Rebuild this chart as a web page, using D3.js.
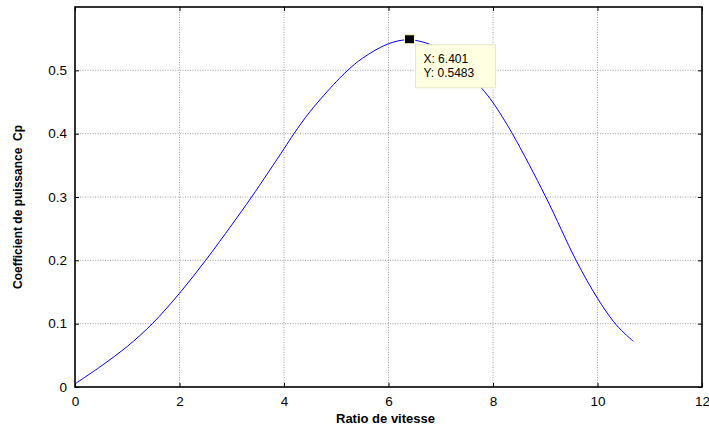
<!DOCTYPE html>
<html>
<head>
<meta charset="utf-8">
<style>
body { margin: 0; background: #fff; }
svg { display: block; font-family: "Liberation Sans", Arial, sans-serif; }
.grid line { stroke: #555; stroke-width: 0.8; stroke-dasharray: 1,1.5; opacity: 0.7; }
</style>
<title>Cp</title>
</head>
<body>
<div id="chart"></div>
<script src="https://d3js.org/d3.v7.min.js"></script>
<script>
// values
var lambda = [0, 0.5, 1, 1.48, 2, 2.5, 3, 3.38, 4, 4.19, 4.5, 5, 5.22, 5.5, 6, 6.401, 6.85, 7, 7.5, 7.78, 8, 8.37, 9.01, 9.59, 10, 10.31, 10.5, 10.69];
var cp     = [0.005, 0.033, 0.064, 0.1, 0.148, 0.2, 0.256, 0.3, 0.376, 0.4, 0.435, 0.482, 0.5, 0.519, 0.542, 0.5483, 0.539, 0.530, 0.496, 0.472, 0.449, 0.4, 0.3, 0.2, 0.14, 0.103, 0.086, 0.072];
var xTicks = [0, 2, 4, 6, 8, 10, 12];
var yTicks = [0, 0.1, 0.2, 0.3, 0.4, 0.5];
var tipX = 6.401, tipY = 0.5483;

var width = 709, height = 427;
var margin = {top: 7, right: 7, bottom: 40, left: 75};
var w = width - margin.left - margin.right,
    h = height - margin.top - margin.bottom;

var svg = d3.select("#chart").append("svg")
    .attr("width", width)
    .attr("height", height);

var g = svg.append("g").attr("transform", "translate(" + margin.left + "," + margin.top + ")");

var x = d3.scaleLinear().domain([0, 12]).range([0, w]);
var y = d3.scaleLinear().domain([0, 0.6]).range([h, 0]);

// grid
g.append("g").attr("class", "grid")
  .selectAll("line").data(xTicks.slice(1, -1)).enter().append("line")
    .attr("x1", function(d) { return x(d); }).attr("x2", function(d) { return x(d); })
    .attr("y1", 0).attr("y2", h);
g.append("g").attr("class", "grid")
  .selectAll("line").data(yTicks.slice(1)).enter().append("line")
    .attr("y1", function(d) { return y(d); }).attr("y2", function(d) { return y(d); })
    .attr("x1", 0).attr("x2", w);

// axes with inward ticks, matlab style
var fmt = function(d) { return d === 0 ? "0" : d3.format("")(d); };
var axB = g.append("g").attr("transform", "translate(0," + h + ")")
    .call(d3.axisBottom(x).tickValues(xTicks).tickSizeInner(-4).tickSizeOuter(0).tickPadding(9).tickFormat(fmt));
var axL = g.append("g")
    .call(d3.axisLeft(y).tickValues(yTicks).tickSizeInner(-4).tickSizeOuter(0).tickPadding(8).tickFormat(fmt));
g.append("g").call(d3.axisTop(x).tickValues(xTicks).tickSizeInner(-4).tickSizeOuter(0).tickFormat(""));
g.append("g").attr("transform", "translate(" + w + ",0)")
    .call(d3.axisRight(y).tickValues(yTicks).tickSizeInner(-4).tickSizeOuter(0).tickFormat(""));

g.selectAll(".domain").remove();
g.selectAll(".tick line").attr("stroke", "#000");
[axB, axL].forEach(function(a) {
  a.selectAll("text").attr("font-size", 13.5).attr("fill", "#000")
    .attr("font-family", "'Liberation Sans', Arial, sans-serif");
});

g.append("rect")
    .attr("width", w).attr("height", h)
    .attr("fill", "none").attr("stroke", "#000").attr("stroke-width", 1.6);

// curve
var line = d3.line()
    .x(function(d, i) { return x(lambda[i]); })
    .y(function(d) { return y(d); })
    .curve(d3.curveCatmullRom.alpha(0.5));

g.append("path")
    .datum(cp)
    .attr("d", line)
    .attr("fill", "none")
    .attr("stroke", "#0000ff")
    .attr("stroke-width", 1);

// data tip
g.append("rect")
    .attr("x", x(tipX) - 5).attr("y", y(tipY) - 5)
    .attr("width", 10).attr("height", 9)
    .attr("fill", "#000").attr("stroke", "#ffffcc").attr("stroke-width", 1);

var tip = g.append("g").attr("transform", "translate(" + (x(tipX) + 6) + "," + (y(tipY) + 5) + ")");
tip.append("rect")
    .attr("width", 80).attr("height", 43)
    .attr("fill", "#ffffe1").attr("stroke", "#e6e6c8").attr("stroke-width", 1);
tip.append("text").attr("x", 8).attr("y", 18).attr("font-size", 12).text("X: " + tipX);
tip.append("text").attr("x", 8).attr("y", 32).attr("font-size", 12).text("Y: " + tipY);

// labels
svg.append("text")
    .attr("x", margin.left + x(6) - 3).attr("y", 423)
    .attr("text-anchor", "middle")
    .attr("font-weight", "bold").attr("font-size", 13)
    .text("Ratio de vitesse");

svg.append("text")
    .attr("transform", "translate(22," + 207 + ") rotate(-90)")
    .attr("text-anchor", "middle")
    .attr("font-weight", "bold").attr("font-size", 12)
    .attr("xml:space", "preserve")
    .text("Coefficient de puissance  Cp");
</script>
</body>
</html>
